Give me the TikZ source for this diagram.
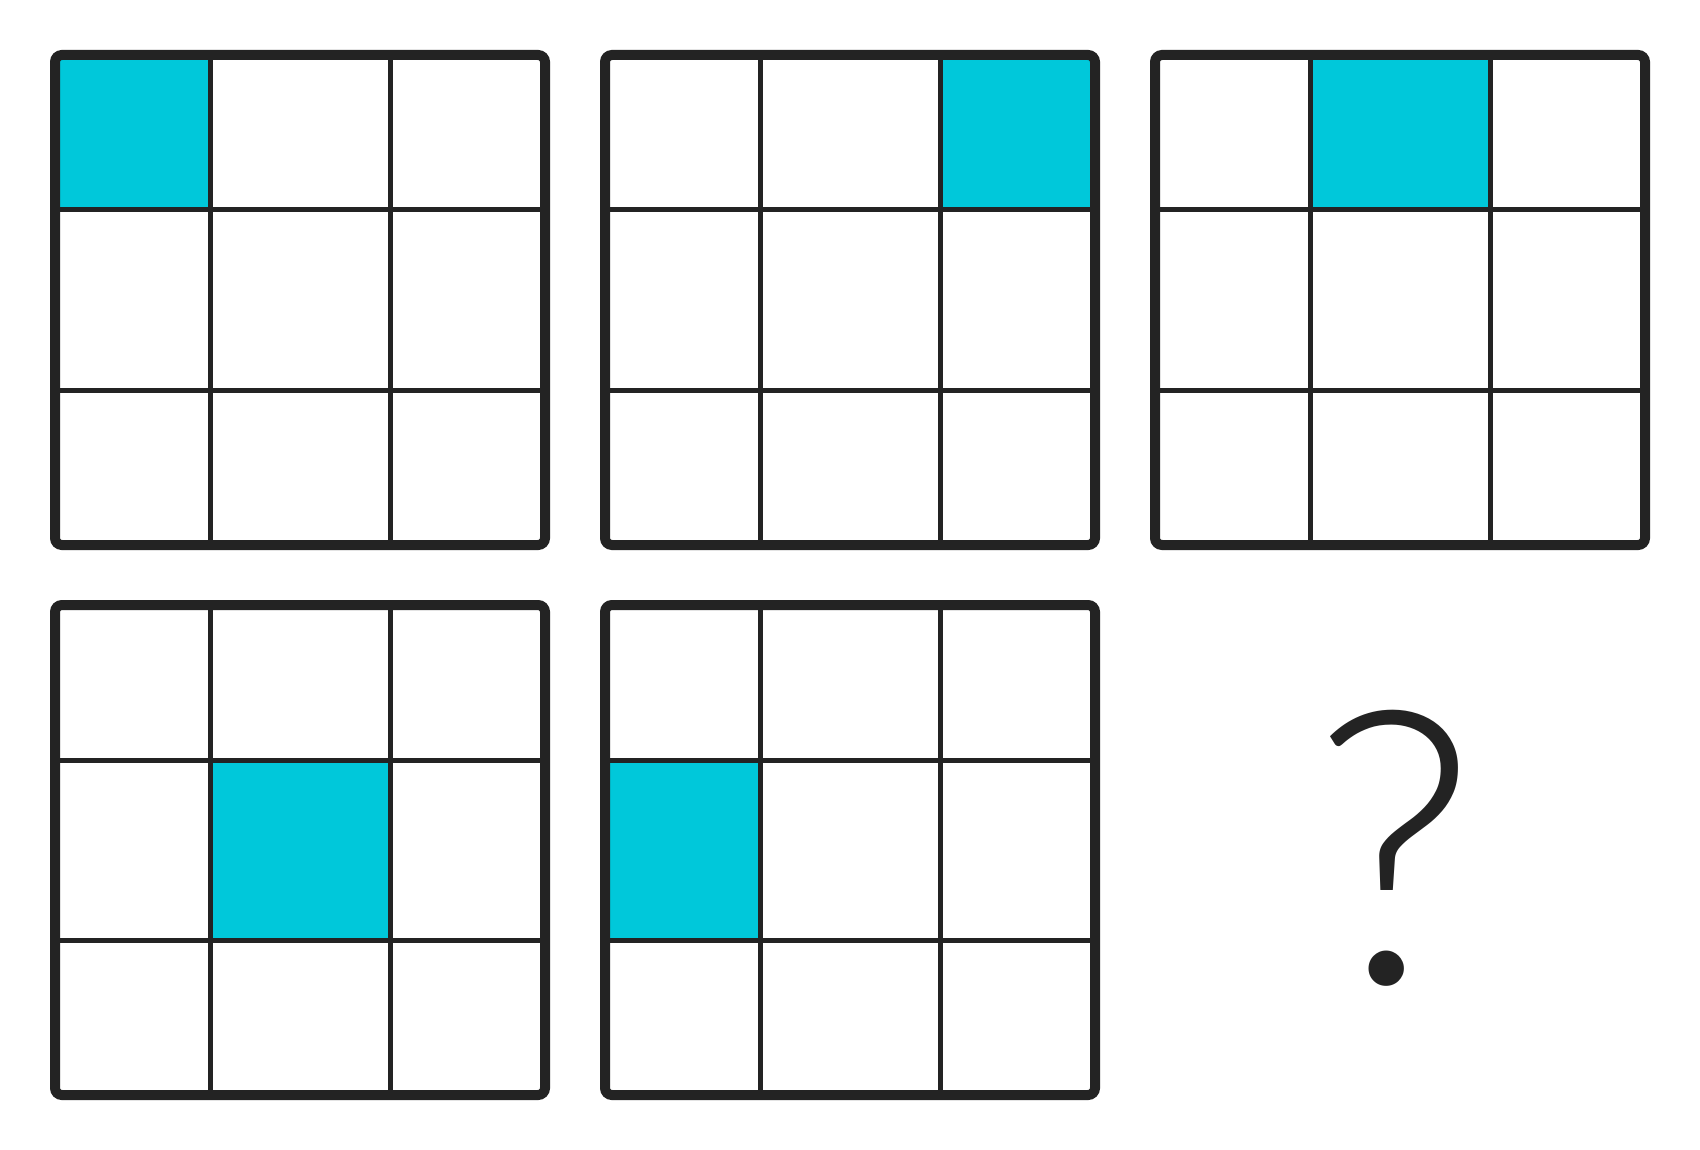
\documentclass[tikz,border=0pt]{standalone}
\usepackage{fontspec}
\IfFontExistsTF{Lato Light}{\newfontfamily\qfont{Lato Light}}{\newfontfamily\qfont{Lato}}
\definecolor{ink}{HTML}{232323}
\definecolor{cyanfill}{HTML}{00C8DA}
\tikzset{
  frame/.style={draw=ink, line width=10pt, rounded corners=7pt},
  gridline/.style={draw=ink, line width=5pt},
  hot/.style={fill=cyanfill},
  qmark/.style={anchor=base, inner sep=0pt, text=ink, font=\qfont\fontsize{382}{382}\selectfont}
}
% name, x, y, col, row of the coloured cell
\newcommand\puzzlegrid[5]{%
  \coordinate (#1) at (#2,#3);
  \pgfmathsetmacro\cxa{{0,155,335}[#4]}%
  \pgfmathsetmacro\cxb{{155,335,490}[#4]}%
  \pgfmathsetmacro\cya{{0,155,335}[#5]}%
  \pgfmathsetmacro\cyb{{155,335,490}[#5]}%
  \path[hot] ([shift={(\cxa,\cya)}]#1) rectangle ([shift={(\cxb,\cyb)}]#1);
  \draw[gridline] ([shift={(155,0)}]#1) -- ++(0,490);
  \draw[gridline] ([shift={(335,0)}]#1) -- ++(0,490);
  \draw[gridline] ([shift={(0,155)}]#1) -- ++(490,0);
  \draw[gridline] ([shift={(0,335)}]#1) -- ++(490,0);
  \draw[frame] (#1) rectangle ++(490,490);
}
\begin{document}
\begin{tikzpicture}[x=1pt,y=-1pt]
  \useasboundingbox (0,0) rectangle (1700,1150);
  \fill[white] (0,0) rectangle (1700,1150);
  \puzzlegrid{g1}{55}{55}{0}{0}
  \puzzlegrid{g2}{605}{55}{2}{0}
  \puzzlegrid{g3}{1155}{55}{1}{0}
  \puzzlegrid{g4}{55}{605}{1}{1}
  \puzzlegrid{g5}{605}{605}{0}{1}
  \node[qmark] (qm) at (1395,983) {?};
\end{tikzpicture}
\end{document}
